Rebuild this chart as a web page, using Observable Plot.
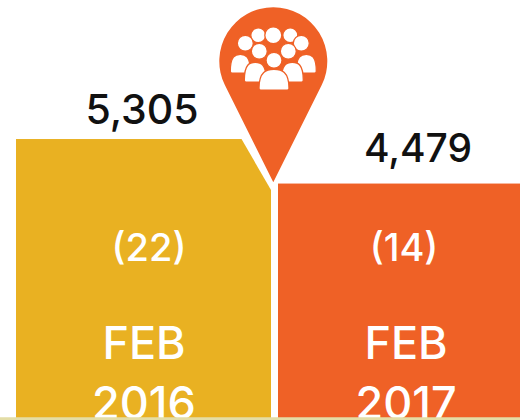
<!DOCTYPE html>
<html>
<head>
<meta charset="utf-8">
<script src="https://cdn.jsdelivr.net/npm/d3@7"></script>
<script src="https://cdn.jsdelivr.net/npm/@observablehq/plot@0.6"></script>
<style>
html,body{margin:0;padding:0;background:#fff;overflow:hidden}
</style>
</head>
<body>
<div id="chart"></div>
<script>
const periods = ["FEB 2016", "FEB 2017"];
const months = ["FEB", "FEB"];
const years = ["2016", "2017"];
const visitors = [5305, 4479];
const counts = ["(22)", "(14)"];
const colors = ["#E9B122", "#EF6126"];

const rows = periods.map((period, i) => ({
  period, month: months[i], year: years[i], value: visitors[i], count: counts[i], color: colors[i]
}));

const symbol = draw => ({draw});
const maskSymbol = symbol(c => {
  c.moveTo(-31.5, -42.7); c.lineTo(-2, 8.3); c.lineTo(3.8, 8.3); c.lineTo(3.8, -70); c.lineTo(-31.5, -70); c.closePath();
});
const pinSymbol = symbol(c => {
  const a = Math.asin(54 / 121);
  c.moveTo(0, 0);
  c.lineTo(48.3, -96.9);
  c.arc(0, -121, 54, a, Math.PI - a, true);
  c.closePath();
});
const head = (x, y, r) => symbol(c => {
  c.moveTo(x + r, y);
  c.arc(x, y, r, 0, Math.PI * 2);
  c.closePath();
});
const body = (x, halfW, top, bottom) => symbol(c => {
  const h = bottom - top;
  c.moveTo(x - halfW, bottom - 2);
  c.bezierCurveTo(x - halfW, top + h * 0.1, x - halfW * 0.5, top, x, top);
  c.bezierCurveTo(x + halfW * 0.5, top, x + halfW, top + h * 0.1, x + halfW, bottom - 2);
  c.quadraticCurveTo(x + halfW, bottom, x + halfW - 2, bottom);
  c.lineTo(x - halfW + 2, bottom);
  c.quadraticCurveTo(x - halfW, bottom, x - halfW, bottom - 2);
  c.closePath();
});
const crowd = [
  head(-15, -147, 7.5), head(17, -147, 7.5), head(0, -147, 8.5),
  head(-28, -139, 8), head(28, -139, 8),
  body(-33, 10, -128, -109), body(33, 10, -128, -109),
  head(-14, -131, 8), head(15, -131, 8),
  body(-18, 11, -120, -100), body(19, 11, -120, -100),
  head(0.7, -122, 8), body(0.7, 15, -113, -92)
];

const anchor = [{period: periods[1], value: visitors[1]}];
const pinMark = (sym, fill, stroke, sw) => Plot.dot(anchor, {
  x: "period", y: "value", r: 1, symbol: sym, fill, stroke: stroke ?? "none", strokeWidth: sw ?? 0,
  dx: -132.7, dy: -1.8
});
const fontFamily = "Inter, sans-serif";

const plot = Plot.plot({
  width: 520, height: 420, margin: 0,
  style: {overflow: "hidden", background: "#fff", fontFamily},
  x: {domain: periods, range: [15.5, 534], paddingInner: 0.025, paddingOuter: 0, axis: null},
  y: {domain: [0, 7884], range: [425, 0], axis: null},
  marks: [
    Plot.barY(rows, {x: "period", y: "value", fill: "color"}),
    pinMark(maskSymbol, "#fff"),
    pinMark(pinSymbol, colors[1]),
    ...crowd.map(s => pinMark(s, "#fff", colors[1], 1.3)),
    Plot.text(rows.slice(0, 1), {x: "period", y: "value", text: d => d3.format(",")(d.value), dy: -29, dx: -2, fontSize: 41, fontWeight: 500, fill: "#111"}),
    Plot.text(rows.slice(1), {x: "period", y: "value", text: d => d3.format(",")(d.value), dy: -35, dx: 12, fontSize: 39, fontWeight: 500, fill: "#111"}),
    Plot.text(rows.slice(0, 1), {x: "period", frameAnchor: "top", lineAnchor: "middle", dy: 248, dx: 5, text: "count", fontSize: 38, fontWeight: 500, fill: "#fff"}),
    Plot.text(rows.slice(1), {x: "period", frameAnchor: "top", lineAnchor: "middle", dy: 248, dx: -2, text: "count", fontSize: 38, fontWeight: 500, fill: "#fff"}),
    Plot.text(rows, {x: "period", frameAnchor: "top", lineAnchor: "middle", dy: 344, text: "month", fontSize: 45, fontWeight: 500, fill: "#fff"}),
    Plot.text(rows, {x: "period", frameAnchor: "top", lineAnchor: "middle", dy: 404, text: "year", fontSize: 45, fontWeight: 500, fill: "#fff"}),
    Plot.ruleY([120], {stroke: "#E3DDA6", strokeWidth: 3.5})
  ]
});
document.getElementById("chart").append(plot);
</script>
</body>
</html>
